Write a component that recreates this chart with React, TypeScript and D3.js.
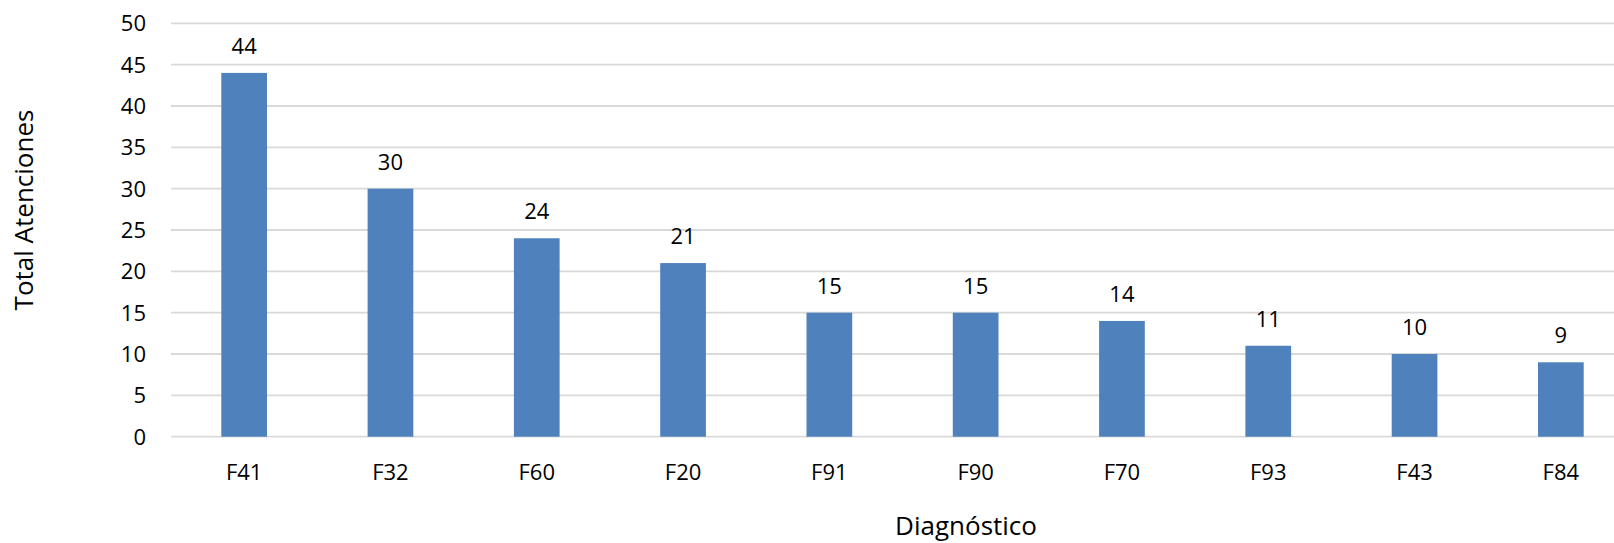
import React from "react";
import * as d3 from "d3";

const categories: string[] = ["F41", "F32", "F60", "F20", "F91", "F90", "F70", "F93", "F43", "F84"];
const values: number[] = [44, 30, 24, 21, 15, 15, 14, 11, 10, 9];
const yTicks: number[] = [0, 5, 10, 15, 20, 25, 30, 35, 40, 45, 50];
const xTitle = "Diagnóstico";
const yTitle = "Total Atenciones";

const W = 1614;
const H = 543;
const FONT = "'Open Sans', 'Noto Sans', sans-serif";

export default function App() {
  if (typeof document !== "undefined") {
    document.body.style.margin = "0";
    document.body.style.overflow = "hidden";
  }
  const plotLeft = 171;
  const plotRight = 1634;
  const x = d3
    .scaleBand<string>()
    .domain(categories)
    .range([plotLeft, plotRight])
    .paddingInner(0.6875)
    .paddingOuter(0.34375);
  const y = d3.scaleLinear().domain([0, 50]).range([436.7, 23.3]);

  return (
    <svg
      width={W}
      height={H}
      viewBox={`0 0 ${W} ${H}`}
      style={{ position: "absolute", left: 0, top: 0, background: "#fff", display: "block" }}
      fontFamily={FONT}
    >
      <rect x={0} y={0} width={W} height={H} fill="#fff" />
      {yTicks.map((t) => (
        <g key={t}>
          <line x1={plotLeft} x2={W} y1={y(t)} y2={y(t)} stroke="#d9d9d9" strokeWidth={1.8} />
          <text x={146} y={y(t)} dy="0.36em" textAnchor="end" fontSize={22} fill="#000">
            {t}
          </text>
        </g>
      ))}
      {categories.map((c, i) => {
        const bx = x(c) as number;
        const bw = x.bandwidth();
        return (
          <g key={c}>
            <rect x={bx} y={y(values[i])} width={bw} height={y(0) - y(values[i])} fill="#4f81bd" />
            <text x={bx + bw / 2} y={y(values[i]) - 19} textAnchor="middle" fontSize={22} fill="#000">
              {values[i]}
            </text>
            <text x={bx + bw / 2} y={479.5} textAnchor="middle" fontSize={22} fill="#000">
              {c}
            </text>
          </g>
        );
      })}
      <text x={966} y={535} textAnchor="middle" fontSize={26} fill="#000">
        {xTitle}
      </text>
      <text transform="translate(33,210) rotate(-90)" textAnchor="middle" fontSize={26} fill="#000">
        {yTitle}
      </text>
    </svg>
  );
}
